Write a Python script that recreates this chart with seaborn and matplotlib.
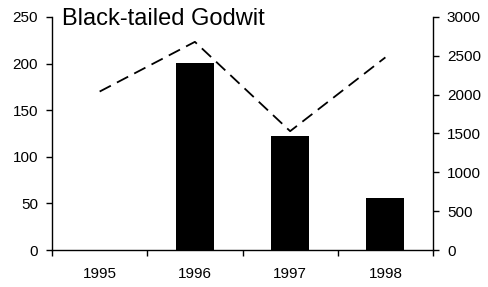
import matplotlib
matplotlib.use("Agg")
import matplotlib.pyplot as plt
import seaborn as sns
import numpy as np
import pandas as pd

years = ["1995", "1996", "1997", "1998"]
bar_values = [0, 201, 122, 56]
line_values = [2040, 2680, 1530, 2480]
title = "Black-tailed Godwit"

sns.set_style("white")
plt.rcParams['font.family'] = ['Liberation Sans', 'DejaVu Sans']

fig = plt.figure(figsize=(4.88, 2.87), dpi=100)
ax = fig.add_axes([0.1066, 0.1289, 0.7807, 0.8119])

df = pd.DataFrame({"year": years, "count": bar_values})
sns.barplot(data=df, x="year", y="count", color="black", width=0.4,
            saturation=1, ax=ax, edgecolor="black", linewidth=0)

ax2 = ax.twinx()
pos = np.arange(len(years))
sns.lineplot(x=pos, y=line_values, ax=ax2, color="black", linewidth=1.3,
             dashes=False)
ax2.lines[0].set_dashes((7, 3.8))

ax.set_xlim(-0.5, len(years) - 0.5)
ax.set_ylim(0, 250)
ax2.set_ylim(0, 3000)
ax.set_yticks([0, 50, 100, 150, 200, 250])
ax2.set_yticks([0, 500, 1000, 1500, 2000, 2500, 3000])

ax.set_xticks(np.arange(-0.5, len(years), 1.0))
ax.set_xticklabels([])
ax.set_xticks(pos, minor=True)
ax.set_xticklabels(years, minor=True)
ax.tick_params(axis="x", which="major", direction="out", length=4, width=1, color="black", bottom=True)
ax.tick_params(axis="x", which="minor", length=0, labelsize=11, pad=12, labelcolor="black")
ax.tick_params(axis="y", direction="out", length=4, width=1, color="black", left=True, labelsize=11, pad=6, labelcolor="black")
ax2.tick_params(axis="y", direction="out", length=4, width=1, color="black", right=True, labelsize=11, pad=6, labelcolor="black")

ax.set_xlabel("")
ax.set_ylabel("")
ax2.set_ylabel("")

for a in (ax, ax2):
    a.spines["top"].set_visible(False)
    for s in ("left", "right", "bottom"):
        a.spines[s].set_color("black")
        a.spines[s].set_linewidth(1)
ax.spines["right"].set_visible(False)
ax2.spines["left"].set_visible(False)
ax2.spines["bottom"].set_visible(False)

ax.text(0.026, 0.965, title, transform=ax.transAxes, fontsize=17,
        ha="left", va="baseline", color="black")

fig.savefig("out.png", dpi=100)
